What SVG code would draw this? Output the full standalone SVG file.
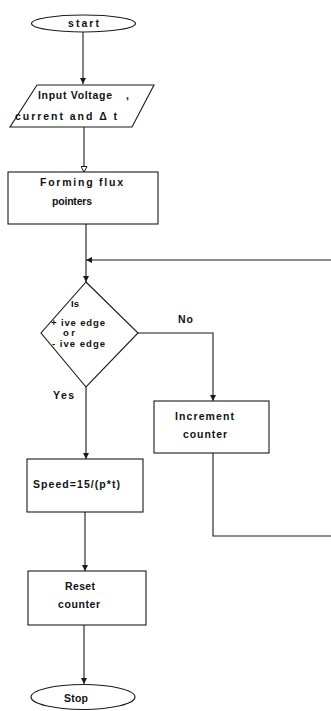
<svg xmlns="http://www.w3.org/2000/svg" width="331" height="711" viewBox="0 0 331 711">
<style>
.s{fill:#fff;stroke:#1a1a1a;stroke-width:1.1}
.c{fill:none;stroke:#1a1a1a;stroke-width:1.1}
text{font-family:"Liberation Sans",Arial,sans-serif;font-weight:bold;font-size:10.5px;fill:#111}
.d{font-size:9.5px}
</style>
<defs>
<marker id="a" markerWidth="6" markerHeight="6" refX="6" refY="3" orient="auto" markerUnits="userSpaceOnUse"><path d="M0,0 L6,3 L0,6 z" fill="#1a1a1a"/></marker>
<marker id="h" markerWidth="7" markerHeight="7" refX="6" refY="3.5" orient="auto" markerUnits="userSpaceOnUse"><path d="M0.5,0.5 L6,3.5 L0.5,6.5 z" fill="#fff" stroke="#1a1a1a" stroke-width="1"/></marker>
</defs>
<rect width="331" height="711" fill="#fff"/>
<g id="connectors">
<path class="c" d="M83,32 V84" marker-end="url(#a)"/>
<path class="c" d="M84,127 V172" marker-end="url(#h)"/>
<path class="c" d="M86,224 V282" marker-end="url(#a)"/>
<path class="c" d="M331,260 H86" marker-end="url(#a)"/>
<path class="c" d="M138,333 H213 V401" marker-end="url(#a)"/>
<path class="c" d="M86,387 V459" marker-end="url(#a)"/>
<path class="c" d="M213,453 V536 H331"/>
<path class="c" d="M85,512 V571" marker-end="url(#a)"/>
<path class="c" d="M84,625 V684" marker-end="url(#a)"/>
<text x="178" y="323" textLength="15" lengthAdjust="spacing">No</text>
<text x="53" y="399" textLength="21" lengthAdjust="spacing">Yes</text>
</g>
<g id="start">
<ellipse class="s" cx="83.5" cy="23.5" rx="52" ry="8.5"/>
<text x="68" y="27" textLength="31" lengthAdjust="spacing">start</text>
</g>
<g id="input">
<polygon class="s" points="37,85 154,85 132,127 10,127"/>
<text x="38" y="99"><tspan textLength="74" lengthAdjust="spacing">Input Voltage</tspan><tspan x="126">,</tspan></text>
<text x="15" y="120" textLength="102" lengthAdjust="spacing">current and Δ t</text>
</g>
<g id="forming">
<rect class="s" x="8" y="172" width="150" height="52"/>
<text x="40" y="186" textLength="83" lengthAdjust="spacing">Forming flux</text>
<text x="52" y="205" textLength="40" lengthAdjust="spacing">pointers</text>
</g>
<g id="decision">
<polygon class="s" points="86,282 138,333 86,387 41,333"/>
<text class="d" x="71" y="307">Is</text>
<text class="d" x="51" y="326" textLength="54" lengthAdjust="spacing">+ ive edge</text>
<text class="d" x="63" y="336" textLength="12" lengthAdjust="spacing">or</text>
<text class="d" x="52" y="347" textLength="53" lengthAdjust="spacing">- ive edge</text>
</g>
<g id="increment">
<rect class="s" x="154" y="401" width="115" height="52"/>
<text x="175" y="420" textLength="59" lengthAdjust="spacing">Increment</text>
<text x="183" y="438" textLength="44" lengthAdjust="spacing">counter</text>
</g>
<g id="speed">
<rect class="s" x="27" y="459" width="116" height="53"/>
<text x="33" y="488" textLength="87" lengthAdjust="spacing">Speed=15/(p*t)</text>
</g>
<g id="reset">
<rect class="s" x="28" y="571" width="118" height="54"/>
<text x="65" y="590" textLength="30" lengthAdjust="spacing">Reset</text>
<text x="58" y="608" textLength="42" lengthAdjust="spacing">counter</text>
</g>
<g id="stop">
<ellipse class="s" cx="83" cy="697" rx="52" ry="12.5"/>
<text x="64" y="702" textLength="24" lengthAdjust="spacing">Stop</text>
</g>
</svg>
